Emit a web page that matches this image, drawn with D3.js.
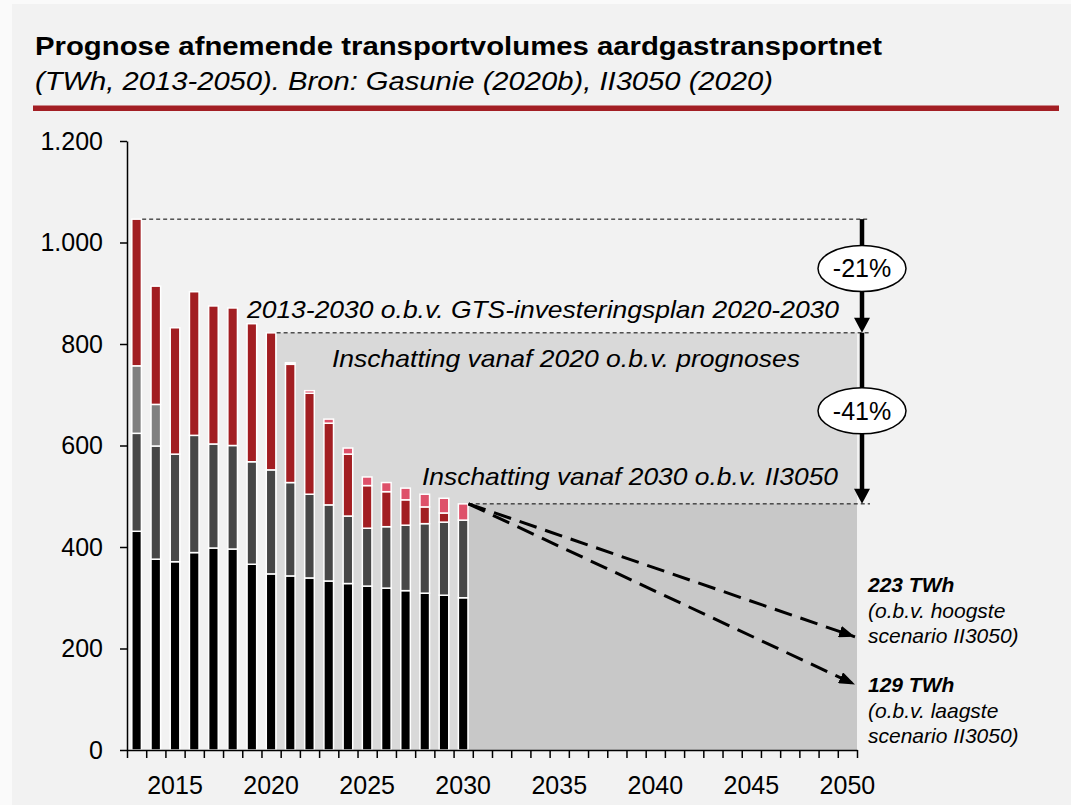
<!DOCTYPE html>
<html>
<head>
<meta charset="utf-8">
<script src="https://cdn.jsdelivr.net/npm/d3@7"></script>
<style>
  html, body { margin: 0; padding: 0; background: #fafafa; }
  svg { display: block; font-family: "Liberation Sans", Arial, Helvetica, sans-serif; }
</style>
</head>
<body>
<svg id="chart" width="1071" height="805"></svg>
<script>
// ---- Data (TWh) -------------------------------------------------------
const dataYears = [2013, 2014, 2015, 2016, 2017, 2018, 2019, 2020, 2021,
                   2022, 2023, 2024, 2025, 2026, 2027, 2028, 2029, 2030];
const seriesBlack    = [431, 376, 371, 389, 398, 396, 366, 347, 343, 339, 333, 328, 323, 319, 314, 309, 305, 300];
const seriesDarkGray = [193, 223, 212, 231, 205, 204, 202, 205, 184, 165, 150, 133, 114, 121, 129, 137, 144, 153];
const seriesMidGray  = [133,  82,   0,   0,   0,   0,   0,   0,   0,   0,   0,   0,   0,   0,   0,   0,   0,   0];
const seriesRed      = [289, 233, 249, 283, 272, 271, 272, 270, 233, 199, 161, 122,  84,  69,  50,  33,  18,   0];
const seriesPink     = [  0,   0,   0,   0,   0,   0,   0,   0,   3,   5,   8,  12,  17,  18,  23,  25,  29,  32];

const axisYears   = [2013, 2014, 2015, 2016, 2017, 2018, 2019, 2020, 2021, 2022,
                     2023, 2024, 2025, 2026, 2027, 2028, 2029, 2030, 2031, 2032,
                     2033, 2034, 2035, 2036, 2037, 2038, 2039, 2040, 2041, 2042,
                     2043, 2044, 2045, 2046, 2047, 2048, 2049, 2050];
const xTickLabels = [2015, 2020, 2025, 2030, 2035, 2040, 2045, 2050];
const yTickValues = [0, 200, 400, 600, 800, 1000, 1200];

// Scenario outcomes for 2050 (II3050)
const scenarioHigh = 223;
const scenarioLow  = 129;

// ---- Setup ------------------------------------------------------------
const nl = d3.formatLocale({ decimal: ",", thousands: ".", grouping: [3], currency: ["€", ""], minus: "-" });
const fmtInt = nl.format(",d");
const fmtPct = nl.format(".0%");

const svg = d3.select("#chart");
const W = 1071, H = 805;
const plot = { left: 127, right: 857, top: 141, bottom: 750 };

const colors = {
  black: "#000000", darkGray: "#474747", midGray: "#808080",
  red: "#a21e22", pink: "#de516a"
};

const x = d3.scaleBand().domain(axisYears).range([plot.left, plot.right])
  .paddingInner(0.5).paddingOuter(0.25);
const xEdge = d3.scaleLinear().domain([2013, 2051]).range([plot.left, plot.right]);
const y = d3.scaleLinear().domain([0, 1200]).range([plot.bottom, plot.top]);

// background panel
svg.append("rect").attr("x", 12).attr("y", 4).attr("width", W - 12).attr("height", H - 4)
  .attr("fill", "#f2f2f2");

// ---- Title ------------------------------------------------------------
svg.append("text").attr("x", 35).attr("y", 55)
  .attr("font-size", 26).attr("font-weight", "bold").attr("fill", "#000")
  .attr("textLength", 847).attr("lengthAdjust", "spacingAndGlyphs")
  .text("Prognose afnemende transportvolumes aardgastransportnet");
svg.append("text").attr("x", 35).attr("y", 90)
  .attr("font-size", 26).attr("font-style", "italic").attr("fill", "#000")
  .attr("textLength", 738).attr("lengthAdjust", "spacingAndGlyphs")
  .text("(TWh, 2013-2050). Bron: Gasunie (2020b), II3050 (2020)");
svg.append("rect").attr("x", 33).attr("y", 105.5).attr("width", 1026).attr("height", 5.5)
  .attr("fill", "#a31f24");

// ---- Table and stack --------------------------------------------------
const keys = ["black", "darkGray", "midGray", "red", "pink"];
const table = dataYears.map((yr, i) => ({
  year: yr,
  black: seriesBlack[i], darkGray: seriesDarkGray[i], midGray: seriesMidGray[i],
  red: seriesRed[i], pink: seriesPink[i]
}));
const totals = table.map(d => keys.reduce((s, k) => s + d[k], 0));
const totalOf = yr => totals[dataYears.indexOf(yr)];
const stacked = d3.stack().keys(keys)(table);

const bw = x.bandwidth();
const total2013 = totalOf(2013), total2020 = totalOf(2020), total2030 = totalOf(2030);

// ---- Shaded estimation zones -----------------------------------------
svg.append("rect")
  .attr("x", x(2020) + bw + 0.75).attr("y", y(total2020))
  .attr("width", plot.right - (x(2020) + bw + 0.75)).attr("height", y(0) - y(total2020))
  .attr("fill", "#d9d9d9");
svg.append("rect")
  .attr("x", x(2030) + bw + 0.75).attr("y", y(total2030))
  .attr("width", plot.right - (x(2030) + bw + 0.75)).attr("height", y(0) - y(total2030))
  .attr("fill", "#c8c8c8");

// ---- Bars -------------------------------------------------------------
const gBars = svg.append("g");
stacked.forEach(layer => {
  gBars.append("g").attr("fill", colors[layer.key])
    .selectAll("rect")
    .data(layer.filter(d => d[1] - d[0] > 0))
    .join("rect")
    .attr("x", d => x(d.data.year))
    .attr("y", d => y(d[1]))
    .attr("width", bw)
    .attr("height", d => y(d[0]) - y(d[1]))
    .attr("stroke", "#ffffff")
    .attr("stroke-width", 1.5);
});

// ---- Reference levels (dashed) ---------------------------------------
const arrowX = plot.right + 5;
const refEnd = plot.right + 13;
const refs = [
  { v: total2013, x0: x(2013) + bw + 0.75 },
  { v: total2020, x0: x(2020) + bw + 0.75 },
  { v: total2030, x0: x(2030) + bw + 0.75 }
];
svg.append("g").selectAll("line").data(refs).join("line")
  .attr("x1", d => d.x0).attr("x2", refEnd)
  .attr("y1", d => y(d.v)).attr("y2", d => y(d.v))
  .attr("stroke", "#000").attr("stroke-width", 1).attr("stroke-dasharray", "4,3");

// ---- Axes -------------------------------------------------------------
const gy = svg.append("g").attr("transform", `translate(${plot.left},0)`)
  .call(d3.axisLeft(y).tickValues(yTickValues).tickSize(7).tickSizeOuter(0)
    .tickPadding(17).tickFormat(fmtInt));
gy.selectAll("text").attr("font-size", 25).attr("fill", "#000")
  .attr("font-family", "'Liberation Sans', Arial, sans-serif");
gy.selectAll("line, path").attr("stroke", "#000").attr("stroke-width", 1.5);

const gxTicks = svg.append("g").attr("transform", `translate(0,${plot.bottom})`)
  .call(d3.axisBottom(xEdge).tickValues(axisYears.concat([2051])).tickSize(8).tickSizeOuter(0)
    .tickFormat(""));
gxTicks.selectAll("line, path").attr("stroke", "#000").attr("stroke-width", 1.5);

const gxLabels = svg.append("g").attr("transform", `translate(0,${plot.bottom})`)
  .call(d3.axisBottom(x).tickValues(xTickLabels).tickSize(0).tickPadding(26));
gxLabels.select("path").remove();
gxLabels.selectAll("text").attr("font-size", 25).attr("fill", "#000")
  .attr("font-family", "'Liberation Sans', Arial, sans-serif");

// ---- Annotations in the plot -----------------------------------------
const notes = [
  { t: "2013-2030 o.b.v. GTS-investeringsplan 2020-2030", x: 247, y: 318, w: 592 },
  { t: "Inschatting vanaf 2020 o.b.v. prognoses", x: 332, y: 367, w: 468 },
  { t: "Inschatting vanaf 2030 o.b.v. II3050", x: 422, y: 485, w: 416 }
];
svg.append("g").selectAll("text").data(notes).join("text")
  .attr("x", d => d.x).attr("y", d => d.y)
  .attr("font-size", 24).attr("font-style", "italic").attr("fill", "#000")
  .attr("textLength", d => d.w).attr("lengthAdjust", "spacingAndGlyphs")
  .text(d => d.t);

// ---- Decline arrows with percentage badges ---------------------------
const head = 15, headHalf = 8;
const drops = [
  { from: total2013, to: total2020 },
  { from: total2020, to: total2030 }
];
const gDrop = svg.append("g");
drops.forEach(d => {
  const y0 = y(d.from), y1 = y(d.to);
  gDrop.append("line").attr("x1", arrowX).attr("x2", arrowX)
    .attr("y1", y0).attr("y2", y1 - head + 1)
    .attr("stroke", "#000").attr("stroke-width", 4.5);
  gDrop.append("path")
    .attr("d", `M${arrowX - headHalf},${y1 - head}L${arrowX + headHalf},${y1 - head}L${arrowX},${y1}Z`)
    .attr("fill", "#000");
  const cy = (y0 + y1 - head) / 2;
  gDrop.append("ellipse").attr("cx", arrowX).attr("cy", cy).attr("rx", 44).attr("ry", 23)
    .attr("fill", "#fff").attr("stroke", "#000").attr("stroke-width", 1.5);
  gDrop.append("text").attr("x", arrowX).attr("y", cy).attr("dy", "0.36em")
    .attr("text-anchor", "middle").attr("font-size", 25).attr("fill", "#000")
    .text(fmtPct(d.to / d.from - 1));
});

// ---- Scenario projections to 2050 ------------------------------------
const defs = svg.append("defs");
defs.append("marker").attr("id", "tri").attr("viewBox", "0 0 16 12")
  .attr("refX", 16).attr("refY", 6).attr("markerWidth", 16).attr("markerHeight", 12)
  .attr("markerUnits", "userSpaceOnUse").attr("orient", "auto")
  .append("path").attr("d", "M0,0L16,6L0,12Z").attr("fill", "#000");

const startX = x(2030) + bw + 0.5, startY = y(total2030);
const endX = plot.right - 2;
svg.append("g").selectAll("line").data([scenarioHigh, scenarioLow]).join("line")
  .attr("x1", startX).attr("y1", startY)
  .attr("x2", endX).attr("y2", v => y(v))
  .attr("stroke", "#000").attr("stroke-width", 3)
  .attr("stroke-dasharray", "18,9")
  .attr("marker-end", "url(#tri)");

const scenarioLabels = [
  { v: scenarioHigh, base: 592, kind: "hoogste" },
  { v: scenarioLow,  base: 692, kind: "laagste" }
];
const gLab = svg.append("g").attr("font-size", 21).attr("font-style", "italic").attr("fill", "#000");
scenarioLabels.forEach(s => {
  const t = gLab.append("text").attr("x", 868).attr("y", s.base);
  t.append("tspan").attr("font-weight", "bold").text(`${s.v} TWh`);
  t.append("tspan").attr("x", 868).attr("dy", 25.5).text(`(o.b.v. ${s.kind}`);
  t.append("tspan").attr("x", 868).attr("dy", 25.5).text("scenario II3050)");
});
</script>
</body>
</html>
